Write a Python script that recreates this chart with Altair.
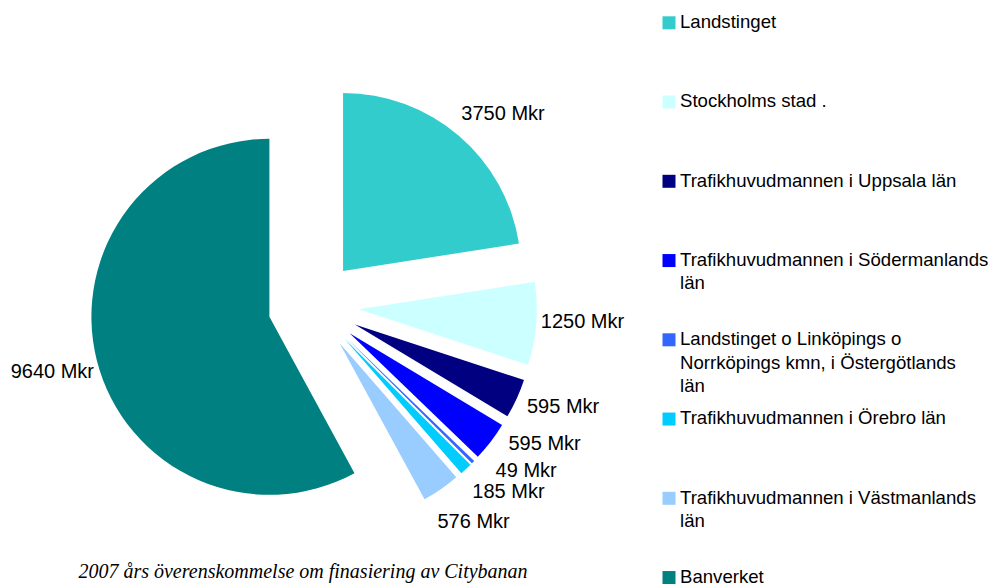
import math
import altair as alt
import pandas as pd

# ---- data ----
names = [
    "Landstinget",
    "Stockholms stad .",
    "Trafikhuvudmannen i Uppsala län",
    "Trafikhuvudmannen i Södermanlands\nlän",
    "Landstinget o Linköpings o\nNorrköpings kmn, i Östergötlands\nlän",
    "Trafikhuvudmannen i Örebro län",
    "Trafikhuvudmannen i Västmanlands\nlän",
    "Banverket",
]
values = [3750, 1250, 595, 595, 49, 185, 576, 9640]
colors = ["#33CCCC", "#CCFFFF", "#000080", "#0000FF", "#3366FF", "#00CCFF", "#99CCFF", "#008080"]
label_nudge_deg = [5, -1.5, -3, -8, -8, -4, -2, 0]
title_text = "2007 års överenskommelse om finasiering av Citybanan"

# ---- layout / style ----
W, H = 982, 578
CX, CY = 305.5, 297.6      # pie centre (px in view)
EXPLODE = 45.5
R = 178
LABEL_R = 224
LEG_SYM_X, LEG_TXT_X = 661, 672
LEG_SYM_Y0, LEG_TXT_Y0, LEG_STEP = 14.8, 20, 79.25
FONT = "Liberation Sans"

df = pd.DataFrame({"name": names, "value": values, "order": list(range(len(names))),
                   "nudge": label_nudge_deg})

xs = alt.Scale(domain=[0, W], range=[0, W], nice=False, zero=False)
ys = alt.Scale(domain=[0, H], range=[0, H], nice=False, zero=False)
color = alt.Color("name:N", scale=alt.Scale(domain=names, range=colors), legend=None)

base = (
    alt.Chart(df)
    .transform_joinaggregate(total="sum(value)")
    .transform_window(cum="sum(value)", sort=[alt.SortField("order")], frame=[None, 0])
    .transform_calculate(
        start="(datum.cum - datum.value) / datum.total",
        end="datum.cum / datum.total",
        mid="PI * (2 * datum.cum - datum.value) / datum.total",
    )
    .transform_calculate(
        cx=f"{CX} + {EXPLODE} * sin(datum.mid)",
        cy=f"{CY} - {EXPLODE} * cos(datum.mid)",
    )
)

arcs = base.mark_arc(outerRadius=R, innerRadius=0).encode(
    x=alt.X("cx:Q", scale=xs, axis=None),
    y=alt.Y("cy:Q", scale=ys, axis=None),
    theta=alt.Theta("start:Q", stack=False, scale=alt.Scale(domain=[0, 1], range=[0, 2 * math.pi])),
    theta2="end:Q",
    color=color,
)

labels = (
    base.transform_calculate(
        la="datum.mid + datum.nudge * PI / 180",
        lab="datum.value + ' Mkr'",
    )
    .transform_calculate(
        lx=f"datum.cx + {LABEL_R} * sin(datum.la)",
        ly=f"datum.cy - {LABEL_R} * cos(datum.la)",
    )
    .mark_text(font=FONT, fontSize=20, color="black", align="center", baseline="middle")
    .encode(x=alt.X("lx:Q", scale=xs, axis=None), y=alt.Y("ly:Q", scale=ys, axis=None), text="lab:N")
)

leg = alt.Chart(df).transform_calculate(
    sx=f"{LEG_SYM_X}",
    sy=f"{LEG_SYM_Y0} + {LEG_STEP} * datum.order",
    tx=f"{LEG_TXT_X}",
    ty=f"{LEG_TXT_Y0} + {LEG_STEP} * datum.order",
)
leg_sym = leg.mark_square(size=169, opacity=1, filled=True).encode(
    x=alt.X("sx:Q", scale=xs, axis=None), y=alt.Y("sy:Q", scale=ys, axis=None), color=color
)
leg_txt = leg.mark_text(
    font=FONT, fontSize=18.6, align="left", baseline="alphabetic", lineBreak="\n", lineHeight=23.5, color="black"
).encode(x=alt.X("tx:Q", scale=xs, axis=None), y=alt.Y("ty:Q", scale=ys, axis=None), text="name:N")

title = alt.Chart(pd.DataFrame({"t": [title_text]})).mark_text(
    font="Liberation Serif", fontSize=20, fontStyle="italic", align="center", baseline="alphabetic", color="black"
).encode(x=alt.value(295), y=alt.value(570), text="t:N")

chart = (
    alt.layer(arcs, labels, leg_sym, leg_txt, title)
    .properties(width=W, height=H, padding=0, autosize=alt.AutoSizeParams(type="none"))
    .configure_view(stroke=None)
)

chart.save("out.html", embed_options={"renderer": "svg", "actions": False})
